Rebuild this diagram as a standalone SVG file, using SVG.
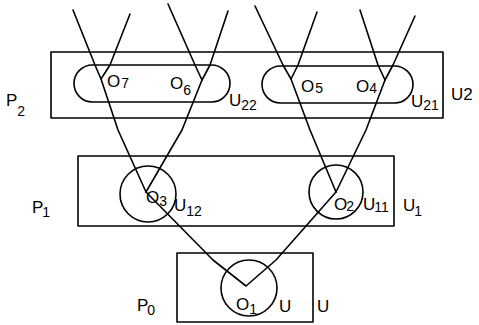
<svg xmlns="http://www.w3.org/2000/svg" width="479" height="325" viewBox="0 0 479 325">
<style>
.s{fill:none;stroke:#000;stroke-width:1.6;stroke-linejoin:round;stroke-linecap:round}
.t{font-family:"Liberation Sans","DejaVu Sans",sans-serif;font-size:17px;fill:#000}
.sb{font-size:14px}
</style>
<rect width="479" height="325" fill="#fff"/>
<g id="P2">
<rect class="s" x="51" y="52" width="392" height="66"/>
<text class="t" x="6" y="106">P<tspan class="sb" dx="0" dy="10">2</tspan></text>
<text class="t" x="451" y="100">U2</text>
</g>
<g id="U22">
<rect class="s" x="74" y="65" width="156" height="37" rx="18.5"/>
<text class="t" x="107" y="87">O<tspan class="sb" dx="1" dy="1">7</tspan></text>
<text class="t" x="170" y="89">O<tspan class="sb" dx="0" dy="6">6</tspan></text>
<text class="t" x="229" y="106">U<tspan class="sb" dy="4">22</tspan></text>
</g>
<g id="U21">
<rect class="s" x="262" y="66" width="151" height="37" rx="18.5"/>
<text class="t" x="301" y="92">O<tspan class="sb" dx="1" dy="1">5</tspan></text>
<text class="t" x="356" y="92">O<tspan class="sb" dx="0" dy="1">4</tspan></text>
<text class="t" x="411" y="107">U<tspan class="sb" dy="3">21</tspan></text>
</g>
<g id="P1">
<rect class="s" x="78" y="156" width="316" height="70"/>
<text class="t" x="32" y="213">P<tspan class="sb" dx="-1" dy="4">1</tspan></text>
<text class="t" x="403" y="211">U<tspan class="sb" dx="-1" dy="5">1</tspan></text>
</g>
<g id="U12">
<circle class="s" cx="148" cy="194" r="28"/>
<text class="t" x="146" y="203">O<tspan class="sb" dx="0" dy="3">3</tspan></text>
<text class="t" x="174" y="211">U<tspan class="sb" dy="5">12</tspan></text>
</g>
<g id="U11">
<circle class="s" cx="336" cy="192" r="27"/>
<text class="t" x="334" y="210">O<tspan class="sb" dx="-1" dy="1">2</tspan></text>
<text class="t" x="363" y="210">U<tspan class="sb" dx="-1" dy="2">11</tspan></text>
</g>
<g id="P0">
<rect class="s" x="177" y="253" width="136" height="69"/>
<text class="t" x="137" y="311">P<tspan class="sb" dx="-1" dy="4">0</tspan></text>
<text class="t" x="317" y="312">U</text>
</g>
<g id="U">
<circle class="s" cx="249" cy="288" r="28"/>
<text class="t" x="236" y="310">O<tspan class="sb" dx="0" dy="4">1</tspan></text>
<text class="t" x="279" y="312">U</text>
</g>
<g id="connectors">
<polyline class="s" points="73,10 95,65 101,79 118,130 146,192"/>
<polyline class="s" points="130,14 110,65 101,79"/>
<polyline class="s" points="168,4 195,65 202,80"/>
<polyline class="s" points="228,11 210,65 202,80 182,130 146,192"/>
<polyline class="s" points="255,6 283,65 291,79 310,130 336,192"/>
<polyline class="s" points="317,12 298,65 291,79"/>
<polyline class="s" points="360,10 378,65 385,80"/>
<polyline class="s" points="415,16 393,65 385,80 366,130 336,192"/>
<polyline class="s" points="146,192 213,260 246,286 276,260 336,192"/>
</g>
</svg>
